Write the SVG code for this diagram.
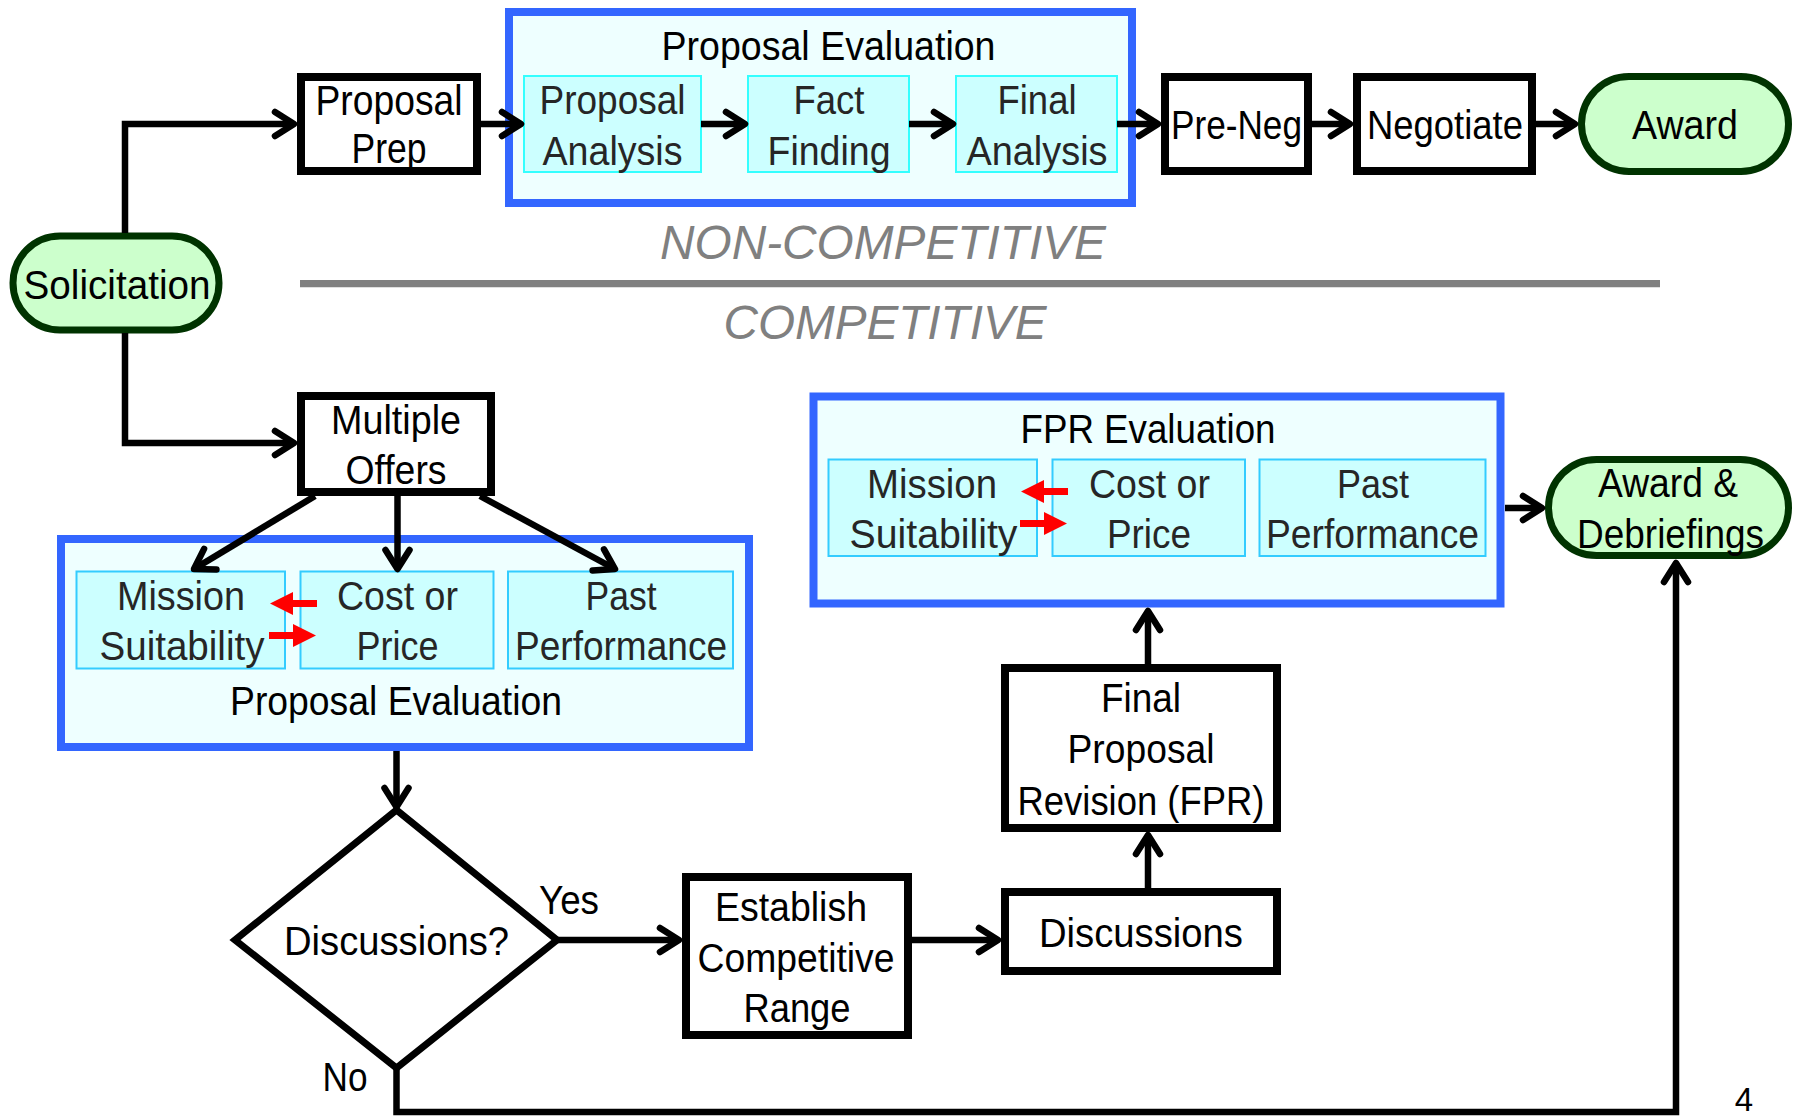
<svg xmlns="http://www.w3.org/2000/svg" width="1797" height="1116" viewBox="0 0 1797 1116">
<style>
text{font-family:"Liberation Sans",Arial,sans-serif;font-size:40px;fill:#000;text-anchor:middle}
.box{fill:#fff;stroke:#000;stroke-width:8}
.term{fill:#ccffcc;stroke:#003300;stroke-width:7}
.grp{fill:#eeffff;stroke:#3366ff;stroke-width:8}
.inT{fill:#ccffff;stroke:#33ffff;stroke-width:2}
.inB{fill:#ccffff;stroke:#33ccff;stroke-width:2}
.it{fill:#262626}
.conn{fill:none;stroke:#000;stroke-width:6.5;marker-end:url(#arr)}
.sec{font-style:italic;font-size:48px;fill:#808080}
.red{fill:#ff0000}
</style>
<defs>
<marker id="arr" markerUnits="userSpaceOnUse" markerWidth="40" markerHeight="40" refX="0" refY="0" orient="auto" overflow="visible">
<path d="M-19,-12 L0,0 L-19,12" fill="none" stroke="#000" stroke-width="6.5" stroke-linecap="round" stroke-linejoin="round"/>
</marker>
<g id="redpair">
<polygon class="red" points="270,603.5 293,592 293,600 317,600 317,607 293,607 293,615"/>
<polygon class="red" points="269,632 293,632 293,624 316,635.5 293,647 293,639 269,639"/>
</g>
</defs>
<rect width="1797" height="1116" fill="#fff"/>

<g id="divider">
<line x1="300" y1="283.7" x2="1660" y2="283.7" stroke="#808080" stroke-width="7.3"/>
<text class="sec" x="883" y="259" textLength="446" lengthAdjust="spacingAndGlyphs">NON-COMPETITIVE</text>
<text class="sec" x="885" y="339" textLength="323" lengthAdjust="spacingAndGlyphs">COMPETITIVE</text>
</g>

<g id="solicitation">
<rect class="term" x="13" y="236" width="206" height="94" rx="47"/>
<text x="117" y="299" textLength="187" lengthAdjust="spacingAndGlyphs">Solicitation</text>
</g>

<g id="proposal-prep">
<rect class="box" x="301" y="77" width="176" height="94"/>
<text x="389" y="115" style="font-size:42px" textLength="147" lengthAdjust="spacingAndGlyphs">Proposal</text>
<text x="389" y="163" style="font-size:42px" textLength="75" lengthAdjust="spacingAndGlyphs">Prep</text>
</g>

<g id="proposal-evaluation-top">
<rect class="grp" x="509" y="12" width="623" height="191"/>
<text x="828.5" y="60" textLength="334" lengthAdjust="spacingAndGlyphs">Proposal Evaluation</text>
<g id="proposal-analysis">
<rect class="inT" x="524" y="76" width="177" height="96"/>
<text class="it" x="612.5" y="114" textLength="146" lengthAdjust="spacingAndGlyphs">Proposal</text>
<text class="it" x="612.5" y="165" textLength="140" lengthAdjust="spacingAndGlyphs">Analysis</text>
</g>
<g id="fact-finding">
<rect class="inT" x="748" y="76" width="161" height="96"/>
<text class="it" x="829" y="114" textLength="71" lengthAdjust="spacingAndGlyphs">Fact</text>
<text class="it" x="829" y="165" textLength="123" lengthAdjust="spacingAndGlyphs">Finding</text>
</g>
<g id="final-analysis">
<rect class="inT" x="956" y="76" width="161" height="96"/>
<text class="it" x="1037" y="114" textLength="79" lengthAdjust="spacingAndGlyphs">Final</text>
<text class="it" x="1037" y="165" textLength="141" lengthAdjust="spacingAndGlyphs">Analysis</text>
</g>
</g>

<g id="pre-neg">
<rect class="box" x="1165" y="77" width="143" height="94"/>
<text x="1236.5" y="139" textLength="131" lengthAdjust="spacingAndGlyphs">Pre-Neg</text>
</g>

<g id="negotiate">
<rect class="box" x="1357" y="77" width="175" height="94"/>
<text x="1445" y="139" textLength="156" lengthAdjust="spacingAndGlyphs">Negotiate</text>
</g>

<g id="award">
<rect class="term" x="1581.5" y="76.5" width="207" height="95" rx="47.5"/>
<text x="1685" y="139" textLength="106" lengthAdjust="spacingAndGlyphs">Award</text>
</g>

<g id="multiple-offers">
<rect class="box" x="301" y="396" width="190" height="96"/>
<text x="396" y="434" textLength="130" lengthAdjust="spacingAndGlyphs">Multiple</text>
<text x="396" y="484" textLength="101" lengthAdjust="spacingAndGlyphs">Offers</text>
</g>

<g id="proposal-evaluation-competitive">
<rect class="grp" x="61" y="539" width="688" height="208"/>
<g id="mission-suitability-1">
<rect class="inB" x="76.5" y="571.5" width="208.5" height="97"/>
<text class="it" x="181" y="610" textLength="128" lengthAdjust="spacingAndGlyphs">Mission</text>
<text class="it" x="182" y="660" textLength="165" lengthAdjust="spacingAndGlyphs">Suitability</text>
</g>
<g id="cost-price-1">
<rect class="inB" x="300.5" y="571.5" width="193" height="97"/>
<text class="it" x="397.5" y="610" textLength="121" lengthAdjust="spacingAndGlyphs">Cost or</text>
<text class="it" x="397.5" y="660" textLength="82" lengthAdjust="spacingAndGlyphs">Price</text>
</g>
<g id="past-performance-1">
<rect class="inB" x="508" y="571.5" width="225" height="97"/>
<text class="it" x="621" y="610" textLength="71" lengthAdjust="spacingAndGlyphs">Past</text>
<text class="it" x="621" y="660" textLength="212" lengthAdjust="spacingAndGlyphs">Performance</text>
</g>
<use href="#redpair"/>
<text x="396" y="715" textLength="332" lengthAdjust="spacingAndGlyphs">Proposal Evaluation</text>
</g>

<g id="discussions-decision">
<polygon points="396.5,810 557,940 396.5,1068 235,940" fill="#fff" stroke="#000" stroke-width="7" stroke-linejoin="miter"/>
<text x="396.5" y="955" textLength="225" lengthAdjust="spacingAndGlyphs">Discussions?</text>
</g>

<g id="establish-range">
<rect class="box" x="686" y="877" width="222" height="158"/>
<text x="791" y="921" textLength="152" lengthAdjust="spacingAndGlyphs">Establish</text>
<text x="796" y="972" textLength="197" lengthAdjust="spacingAndGlyphs">Competitive</text>
<text x="797" y="1022" textLength="107" lengthAdjust="spacingAndGlyphs">Range</text>
</g>

<g id="discussions">
<rect class="box" x="1005" y="892" width="272" height="79"/>
<text x="1141" y="947" textLength="204" lengthAdjust="spacingAndGlyphs">Discussions</text>
</g>

<g id="fpr">
<rect class="box" x="1005" y="668" width="272" height="160"/>
<text x="1141" y="712" textLength="80" lengthAdjust="spacingAndGlyphs">Final</text>
<text x="1141" y="763" textLength="147" lengthAdjust="spacingAndGlyphs">Proposal</text>
<text x="1141" y="815" textLength="247" lengthAdjust="spacingAndGlyphs">Revision (FPR)</text>
</g>

<g id="fpr-evaluation">
<rect class="grp" x="813.5" y="396.5" width="687" height="207"/>
<text x="1148" y="443" textLength="255" lengthAdjust="spacingAndGlyphs">FPR Evaluation</text>
<g id="mission-suitability-2">
<rect class="inB" x="828.5" y="459.5" width="208.5" height="96.5"/>
<text class="it" x="932" y="498" textLength="130" lengthAdjust="spacingAndGlyphs">Mission</text>
<text class="it" x="933.5" y="548" textLength="168" lengthAdjust="spacingAndGlyphs">Suitability</text>
</g>
<g id="cost-price-2">
<rect class="inB" x="1052.5" y="459.5" width="192.5" height="96.5"/>
<text class="it" x="1149.5" y="498" textLength="121" lengthAdjust="spacingAndGlyphs">Cost or</text>
<text class="it" x="1149" y="548" textLength="84" lengthAdjust="spacingAndGlyphs">Price</text>
</g>
<g id="past-performance-2">
<rect class="inB" x="1259.5" y="459.5" width="226" height="96.5"/>
<text class="it" x="1373" y="498" textLength="72" lengthAdjust="spacingAndGlyphs">Past</text>
<text class="it" x="1372.5" y="548" textLength="213" lengthAdjust="spacingAndGlyphs">Performance</text>
</g>
<use href="#redpair" transform="translate(751,-112)"/>
</g>

<g id="award-debriefings">
<rect class="term" x="1548.5" y="459.5" width="240" height="96" rx="48"/>
<text x="1668" y="497" textLength="140" lengthAdjust="spacingAndGlyphs">Award &amp;</text>
<text x="1670.5" y="548" textLength="187" lengthAdjust="spacingAndGlyphs">Debriefings</text>
</g>

<g id="connectors">
<polyline class="conn" points="125,233 125,124 294,124"/>
<line class="conn" x1="481" y1="124" x2="521" y2="124"/>
<line class="conn" x1="701" y1="124" x2="745" y2="124"/>
<line class="conn" x1="909" y1="124" x2="953" y2="124"/>
<line class="conn" x1="1117" y1="124" x2="1158" y2="124"/>
<line class="conn" x1="1312" y1="124" x2="1350" y2="124"/>
<line class="conn" x1="1536" y1="124" x2="1575" y2="124"/>
<polyline class="conn" points="125,333 125,443 294,443"/>
<line class="conn" x1="315" y1="496" x2="194" y2="569"/>
<line class="conn" x1="397.5" y1="496" x2="397.5" y2="569"/>
<line class="conn" x1="480" y1="496" x2="615" y2="569"/>
<line class="conn" x1="396.5" y1="751" x2="396.5" y2="807"/>
<line class="conn" x1="557" y1="940" x2="679" y2="940"/>
<line class="conn" x1="912" y1="940" x2="998" y2="940"/>
<line class="conn" x1="1148" y1="888" x2="1148" y2="835"/>
<line class="conn" x1="1148" y1="664" x2="1148" y2="611"/>
<line class="conn" x1="1505" y1="508" x2="1542" y2="508"/>
<polyline class="conn" points="396.5,1068 396.5,1112 1676,1112 1676,563"/>
<text x="569" y="914" textLength="60" lengthAdjust="spacingAndGlyphs">Yes</text>
<text x="345" y="1091" textLength="45" lengthAdjust="spacingAndGlyphs">No</text>
</g>

<g id="page-number">
<text x="1744" y="1111" style="font-size:33px">4</text>
</g>
</svg>
